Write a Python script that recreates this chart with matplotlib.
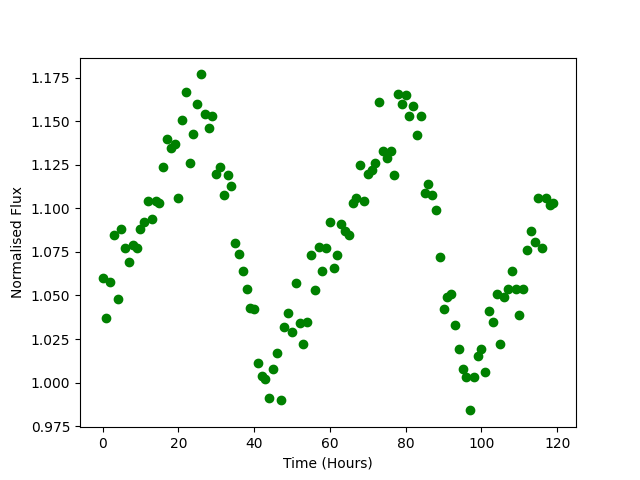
import matplotlib
matplotlib.use("Agg")
import matplotlib.pyplot as plt
import numpy as np

time_hours = list(range(120))
flux = [1.060, 1.037, 1.058, 1.085, 1.048, 1.088, 1.077, 1.069, 1.079, 1.077,
        1.088, 1.092, 1.104, 1.094, 1.104, 1.103, 1.124, 1.140, 1.135, 1.137,
        1.106, 1.151, 1.167, 1.126, 1.143, 1.160, 1.177, 1.154, 1.146, 1.153,
        1.120, 1.124, 1.108, 1.119, 1.113, 1.080, 1.074, 1.064, 1.054, 1.043,
        1.042, 1.011, 1.004, 1.002, 0.991, 1.008, 1.017, 0.990, 1.032, 1.040,
        1.029, 1.057, 1.034, 1.022, 1.035, 1.073, 1.053, 1.078, 1.064, 1.077,
        1.092, 1.066, 1.073, 1.091, 1.087, 1.085, 1.103, 1.106, 1.125, 1.104,
        1.120, 1.122, 1.126, 1.161, 1.133, 1.129, 1.133, 1.119, 1.166, 1.160,
        1.165, 1.153, 1.159, 1.142, 1.153, 1.109, 1.114, 1.108, 1.099, 1.072,
        1.042, 1.049, 1.051, 1.033, 1.019, 1.008, 1.003, 0.984, 1.003, 1.015,
        1.019, 1.006, 1.041, 1.035, 1.051, 1.022, 1.049, 1.054, 1.064, 1.054,
        1.039, 1.054, 1.076, 1.087, 1.081, 1.106, 1.077, 1.106, 1.102, 1.103]

fig, ax = plt.subplots(figsize=(6.4, 4.8), dpi=100)
ax.plot(time_hours, flux, 'o', color='green')
ax.set_xlabel("Time (Hours)")
ax.set_ylabel("Normalised Flux")
fig.savefig("out.png", dpi=100)
